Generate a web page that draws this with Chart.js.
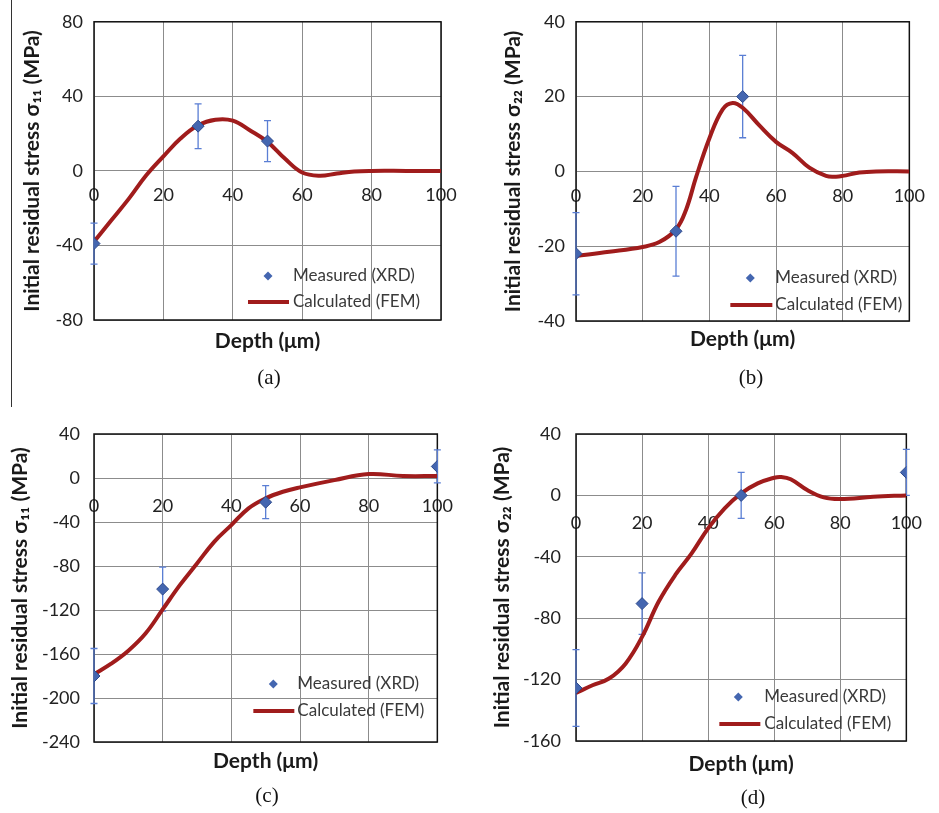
<!DOCTYPE html>
<html>
<head>
<meta charset="utf-8">
<script src="https://cdn.jsdelivr.net/npm/chart.js@4.4.0/dist/chart.umd.min.js"></script>
<style>
body { margin: 0; background: #fff; width: 939px; height: 813px; position: relative; overflow: hidden; }
canvas { position: absolute; }
.cap { position: absolute; font-family: "Liberation Serif", serif; font-size: 21px; color: #111; transform: translate(-50%, -50%); }
#rule { position: absolute; left: 11px; top: 0; width: 1px; height: 407px; background: #333; }
</style>
</head>
<body>
<canvas id="chartA" width="470" height="400" style="left:0;top:0"></canvas>
<canvas id="chartB" width="469" height="400" style="left:470px;top:0"></canvas>
<canvas id="chartC" width="470" height="413" style="left:0;top:400px"></canvas>
<canvas id="chartD" width="469" height="413" style="left:470px;top:400px"></canvas>
<div id="rule"></div>
<div class="cap" style="left:269px;top:377px">(a)</div>
<div class="cap" style="left:751px;top:377px">(b)</div>
<div class="cap" style="left:267px;top:795px">(c)</div>
<div class="cap" style="left:753px;top:797px">(d)</div>
<script>
const depthTicks = [0, 20, 40, 60, 80, 100];

// (a) sigma 11
const yTicksA = [-80, -40, 0, 40, 80];
const femDepthA = [0, 5, 10, 15, 20, 25, 30, 35, 40, 45, 50, 55, 60, 65, 70, 75, 80, 90, 100];
const femStressA = [-38, -26.5, -15, -2.5, 7.8, 17.5, 24.5, 27.5, 27, 21.7, 15.6, 6.6, -0.9, -2.6, -1.4, -0.3, 0, 0, 0];
const xrdDepthA = [0, 30, 50];
const xrdStressA = [-39, 24, 16];
const xrdErrA = [11, 12, 11];

// (b) sigma 22
const yTicksB = [-40, -20, 0, 20, 40];
const femDepthB = [0, 10, 20, 25, 30, 33, 36, 40, 44, 47, 50, 55, 60, 65, 70, 75, 78, 80, 85, 90, 100];
const femStressB = [-22.6, -21.5, -20.2, -18.9, -15.5, -10.3, -1.6, 8.8, 16.6, 18.3, 17, 12.3, 7.9, 4.9, 1.0, -1.2, -1.4, -1.2, -0.3, 0, 0];
const xrdDepthB = [0, 30, 50];
const xrdStressB = [-22, -16, 20];
const xrdErrB = [11, 12, 11];

// (c) sigma 11
const yTicksC = [-240, -200, -160, -120, -80, -40, 0, 40];
const femDepthC = [0, 5, 10, 15, 20, 25, 30, 35, 40, 45, 50, 55, 60, 70, 80, 90, 100];
const femStressC = [-178.4, -168.8, -157, -141.4, -119.5, -97.4, -77.7, -58, -42.8, -27.6, -18.5, -12.5, -8.5, -1.9, 3.6, 1.8, 1.8];
const xrdDepthC = [0, 20, 50, 100];
const xrdStressC = [-180, -101, -22, 10.5];
const xrdErrC = [25, 20, 15, 15];

// (d) sigma 22
const yTicksD = [-160, -120, -80, -40, 0, 40];
const femDepthD = [0, 5, 10, 15, 20, 25, 30, 35, 40, 45, 50, 55, 60, 62, 65, 70, 75, 80, 90, 100];
const femStressD = [-128.7, -123.7, -119.3, -109.6, -92.2, -69.3, -52, -37.8, -21.5, -8.5, 1.3, 7.8, 11.5, 12, 10.5, 3.5, -1.3, -2.4, -0.9, 0];
const xrdDepthD = [0, 20, 50, 100];
const xrdStressD = [-125.5, -70.5, 0, 15];
const xrdErrD = [25, 20, 15, 15];

const FONT = 'Lato, "DejaVu Sans", sans-serif';

const errorBars = {
    id: 'errorBars',
    beforeDatasetsDraw(chart) {
        const ctx = chart.ctx;
        const xs = chart.scales.x;
        const ys = chart.scales.y;
        // frame around the plot area
        const a = chart.chartArea;
        ctx.save();
        ctx.strokeStyle = '#111';
        ctx.lineWidth = 1.5;
        ctx.strokeRect(a.left, a.top, a.right - a.left, a.bottom - a.top);
        ctx.restore();

        chart.data.datasets.forEach(ds => {
            if (!ds.errors) return;
            ctx.save();
            ctx.strokeStyle = '#5a7ed4';
            ctx.lineWidth = 1.3;
            ds.data.forEach((p, i) => {
                const px = xs.getPixelForValue(p.x);
                const top = ys.getPixelForValue(p.y + ds.errors[i]);
                const bot = ys.getPixelForValue(p.y - ds.errors[i]);
                ctx.beginPath();
                ctx.moveTo(px, top);
                ctx.lineTo(px, bot);
                ctx.moveTo(px - 3.5, top);
                ctx.lineTo(px + 3.5, top);
                ctx.moveTo(px - 3.5, bot);
                ctx.lineTo(px + 3.5, bot);
                ctx.stroke();
            });
            ctx.restore();
        });
    }
};

const boxLegend = {
    id: 'boxLegend',
    afterDraw(chart, args, opts) {
        const ctx = chart.ctx;
        const a = chart.chartArea;
        const meas = chart.data.datasets[0];
        const calc = chart.data.datasets[1];
        const y1 = a.bottom + opts.row1;
        const y2 = a.bottom + opts.row2;
        ctx.save();
        // diamond
        const mx = a.right + opts.markX;
        ctx.fillStyle = meas.backgroundColor;
        ctx.beginPath();
        ctx.moveTo(mx, y1 - 4.5);
        ctx.lineTo(mx + 4.5, y1);
        ctx.lineTo(mx, y1 + 4.5);
        ctx.lineTo(mx - 4.5, y1);
        ctx.closePath();
        ctx.fill();
        // line
        ctx.strokeStyle = calc.borderColor;
        ctx.lineWidth = calc.borderWidth;
        ctx.beginPath();
        ctx.moveTo(a.right + opts.lineFrom, y2);
        ctx.lineTo(a.right + opts.lineTo, y2);
        ctx.stroke();
        ctx.fillStyle = '#3a3a3a';
        ctx.font = '17px ' + FONT;
        ctx.textBaseline = 'middle';
        ctx.fillText(meas.label, a.right + opts.textX, y1);
        ctx.fillText(calc.label, a.right + opts.textX, y2);
        ctx.restore();
    }
};

function makeChart(id, femX, femY, xrdX, xrdY, xrdErr, yTicks, yTitle, lay) {
    const tickFont = { family: FONT, size: 18 };
    const titleFont = { family: FONT, size: 21, weight: 'bold' };
    const setTicks = list => scale => { scale.ticks = list.map(v => ({ value: v })); };

    return new Chart(document.getElementById(id), {
        type: 'line',
        data: {
            datasets: [
                {
                    label: 'Measured (XRD)',
                    data: xrdX.map((x, i) => ({ x: x, y: xrdY[i] })),
                    errors: xrdErr,
                    showLine: false,
                    pointStyle: 'rectRot',
                    pointRadius: 6,
                    backgroundColor: '#4466b0',
                    borderColor: '#2e4a8c',
                    borderWidth: 1
                },
                {
                    label: 'Calculated (FEM)',
                    data: femX.map((x, i) => ({ x: x, y: femY[i] })),
                    borderColor: '#a01c1c',
                    borderWidth: 4,
                    pointRadius: 0,
                    tension: 0.4,
                    fill: false
                }
            ]
        },
        options: {
            responsive: false,
            animation: false,
            layout: { padding: { top: lay.top, right: lay.right, left: 0, bottom: 0 } },
            plugins: {
                legend: { display: false },
                tooltip: { enabled: false },
                boxLegend: lay.legend
            },
            scales: {
                x: {
                    type: 'linear',
                    min: 0,
                    max: 100,
                    afterBuildTicks: setTicks(depthTicks),
                    ticks: { display: false },
                    grid: { color: '#8c8c8c', drawTicks: false },
                    border: { display: false },
                    title: {
                        display: true,
                        text: 'Depth (μm)',
                        font: titleFont,
                        color: '#1a1a1a',
                        padding: { top: 0, bottom: lay.xTitlePad }
                    },
                    afterFit: s => { s.height = lay.xHeight; }
                },
                x2: {
                    type: 'linear',
                    axis: 'x',
                    position: { y: 0 },
                    min: 0,
                    max: 100,
                    afterBuildTicks: setTicks(depthTicks),
                    ticks: { font: tickFont, color: '#222', padding: lay.xTickPad, maxRotation: 0 },
                    grid: { display: false, drawTicks: false },
                    border: { display: false }
                },
                y: {
                    type: 'linear',
                    min: yTicks[0],
                    max: yTicks[yTicks.length - 1],
                    afterBuildTicks: setTicks(yTicks),
                    ticks: { font: tickFont, color: '#222', padding: lay.yTickPad },
                    grid: { color: '#8c8c8c', drawTicks: false },
                    border: { display: false },
                    title: {
                        display: true,
                        text: yTitle,
                        font: titleFont,
                        color: '#1a1a1a',
                        padding: { top: lay.yTitlePad, bottom: 0 }
                    },
                    afterFit: s => { s.width = lay.yWidth; }
                }
            }
        },
        plugins: [errorBars, boxLegend]
    });
}

makeChart('chartA', femDepthA, femStressA, xrdDepthA, xrdStressA, xrdErrA, yTicksA,
    'Initial residual stress σ₁₁ (MPa)',
    { top: 13, right: 29, yWidth: 94, yTitlePad: 20, yTickPad: 11, xHeight: 80, xTitlePad: 46, xTickPad: 13,
      legend: { markX: -173, textX: -148, lineFrom: -193, lineTo: -152, row1: -44, row2: -18 } });

makeChart('chartB', femDepthB, femStressB, xrdDepthB, xrdStressB, xrdErrB, yTicksB,
    'Initial residual stress σ₂₂ (MPa)',
    { top: 13, right: 17, yWidth: 106, yTitlePad: 31, yTickPad: 11, xHeight: 79, xTitlePad: 48, xTickPad: 14,
      legend: { markX: -159, textX: -134, lineFrom: -179, lineTo: -137, row1: -43, row2: -16 } });

makeChart('chartC', femDepthC, femStressC, xrdDepthC, xrdStressC, xrdErrC, yTicksC,
    'Initial residual stress σ₁₁ (MPa)',
    { top: 34, right: 29, yWidth: 94, yTitlePad: 8, yTickPad: 14, xHeight: 71, xTitlePad: 39, xTickPad: 17,
      legend: { markX: -164, textX: -140, lineFrom: -184, lineTo: -143, row1: -58, row2: -31 } });

makeChart('chartD', femDepthD, femStressD, xrdDepthD, xrdStressD, xrdErrD, yTicksD,
    'Initial residual stress σ₂₂ (MPa)',
    { top: 34, right: 17, yWidth: 106, yTitlePad: 20, yTickPad: 15, xHeight: 72, xTitlePad: 36, xTickPad: 17,
      legend: { markX: -168, textX: -142, lineFrom: -187, lineTo: -146, row1: -44, row2: -17 } });
</script>
</body>
</html>
